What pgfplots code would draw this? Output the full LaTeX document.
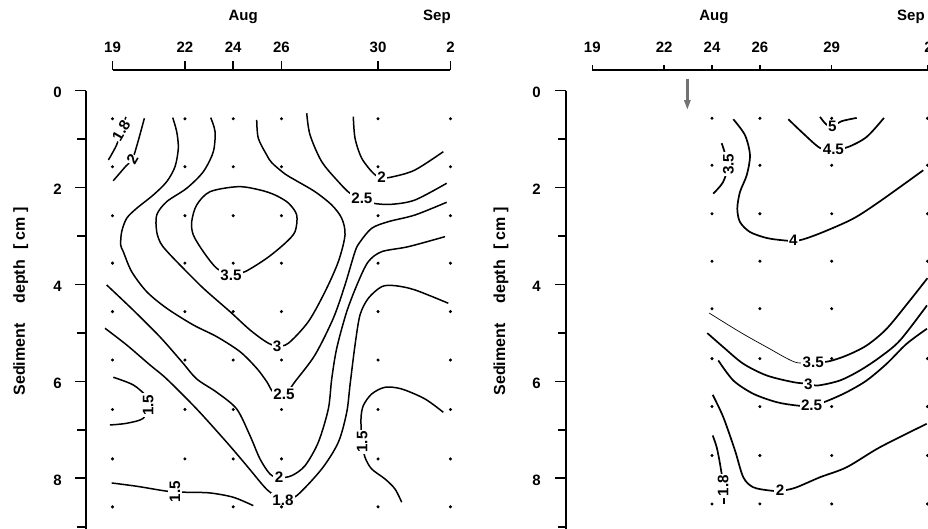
\documentclass[border=0pt]{standalone}
\usepackage{pgfplots}
\pgfplotsset{compat=1.18}
\usepackage{fontspec}
\setmainfont{Liberation Sans}
\usetikzlibrary{arrows.meta}
\newcommand\tl{\fontsize{7.5}{8.5}\selectfont\bfseries}
\newcommand\cl{\fontsize{7.6}{8.5}\selectfont\bfseries}
\begin{document}
\begin{tikzpicture}
\path[use as bounding box] (0,0) rectangle (464pt,264.5pt);
\pgfplotsset{
  panel/.style={scale only axis, hide axis, clip=false, y dir=reverse,
    ymin=-0.427, ymax=9.047, height=229.5pt, anchor=south west},
  cont/.style={black, line width=0.75pt, smooth, mark=none},
  contR/.style={black, line width=0.85pt, smooth, mark=none},
  dots/.style={only marks, mark=*, mark size=0.55pt, black},
}
\tikzset{
  clab/.style={fill=white, inner sep=0.7pt, font=\cl},
  tlab/.style={font=\tl, inner sep=0pt},
}
% ================= LEFT PANEL =================
\begin{axis}[panel, at={(43pt,0pt)}, width=182.23pt, xmin=17.902, xmax=33]
\addplot[dots] table {
x y
19 0.58
22 0.58
24 0.58
26 0.58
30 0.58
33 0.58
19 1.57
22 1.57
24 1.57
26 1.57
30 1.57
33 1.57
19 2.58
22 2.58
24 2.58
26 2.58
30 2.58
33 2.58
19 3.56
22 3.56
24 3.56
26 3.56
30 3.56
33 3.56
19 4.56
22 4.56
24 4.56
26 4.56
30 4.56
33 4.56
19 5.56
22 5.56
24 5.56
26 5.56
30 5.56
33 5.56
19 6.58
22 6.58
24 6.58
26 6.58
30 6.58
33 6.58
19 7.60
22 7.60
24 7.60
26 7.60
30 7.60
33 7.60
19 8.59
24 8.59
26 8.59
30 8.59
33 8.59
};
% contour 1.8 top-left
\addplot[cont] coordinates {(18.83,1.43) (19.17,1.12) (19.36,0.82) (19.47,0.66) (19.56,0.54)};
% contour 2 top-left
\addplot[cont] coordinates {(19.03,1.86) (19.55,1.56) (19.82,1.42) (20.04,1.08) (20.32,0.57)};
% contour 2.5 (left, long)
\addplot[cont] coordinates {(21.494,0.557) (21.660,0.846) (21.726,1.189) (21.589,1.569) (21.246,1.878) (20.690,2.153) (20.003,2.427) (19.588,2.634) (19.381,2.910) (19.340,3.185) (19.447,3.323) (19.795,3.736) (20.417,4.149) (21.245,4.491) (22.348,4.836) (23.317,5.077) (24.282,5.387) (24.974,5.730) (25.389,6.006) (25.662,6.225) (26.104,6.30) (26.560,6.006) (27.388,5.455) (28.147,4.698) (28.631,4.010) (29.046,3.323) (29.253,3.123) (29.738,2.840) (30.425,2.704) (31.531,2.566) (32.844,2.303)};
% contour 3
\addplot[cont] coordinates {(23.068,0.557) (23.247,0.846) (23.176,1.259) (22.762,1.672) (22.074,2.014) (21.245,2.291) (20.831,2.566) (20.831,2.910) (20.989,3.143) (21.245,3.309) (21.797,3.598) (22.762,4.078) (23.868,4.561) (24.697,4.939) (25.389,5.193) (25.815,5.269) (26.283,5.214) (27.112,4.768) (27.804,4.149) (28.355,3.529) (28.632,2.978) (28.495,2.634) (28.081,2.359) (27.388,2.085) (26.560,1.843) (26.146,1.719) (25.607,1.492) (25.388,1.327) (25.040,0.982) (24.974,0.605)};
% contour 3.5 loop
\addplot[cont] coordinates {(23.909,3.804) (23.317,3.666) (22.762,3.323) (22.348,2.978) (22.281,2.704) (22.488,2.359) (23.040,2.085) (24.212,1.981) (25.111,2.050) (25.732,2.153) (26.283,2.318) (26.631,2.566) (26.561,2.910) (26.147,3.150) (25.388,3.459) (24.489,3.736) (23.909,3.804)};
% contour 2 top-right
\addplot[cont] coordinates {(28.976,0.537) (29.047,0.982) (29.324,1.395) (29.805,1.705) (30.153,1.80) (30.634,1.775) (31.532,1.637) (32.705,1.259)};
% contour 2.5 top-right
\addplot[cont] coordinates {(27.046,0.466) (27.183,0.914) (27.667,1.465) (28.355,1.878) (28.840,2.118) (29.325,2.221) (29.805,2.324) (30.567,2.345) (31.532,2.256) (32.845,1.911)};
% contour 2 lower
\addplot[cont] coordinates {(18.760,4.011) (19.849,4.525) (20.968,5.083) (21.879,5.599) (22.488,5.950) (23.317,6.225) (24.145,6.570) (24.697,7.121) (25.111,7.602) (25.525,7.912) (25.898,7.99) (26.424,7.946) (26.975,7.740) (27.526,7.257) (27.940,6.570) (28.081,5.950) (28.289,5.317) (28.703,4.561) (29.183,3.942) (29.598,3.529) (30.153,3.323) (31.255,3.220) (32.775,3.013)};
% contour 1.8 lower
\addplot[cont] coordinates {(18.689,4.904) (19.588,5.249) (20.553,5.662) (21.245,5.950) (22.488,6.570) (23.731,7.257) (24.559,7.740) (25.247,8.153) (25.566,8.303) (26.063,8.45) (26.631,8.359) (27.667,7.808) (28.355,7.257) (28.703,6.638) (28.840,6.074) (29.047,5.249) (29.254,4.629) (29.598,4.285) (30.153,4.045) (30.704,4.025) (31.532,4.113) (32.912,4.388)};
% contour 1.5 left
\addplot[cont] coordinates {(19.033,5.915) (19.862,6.074) (20.417,6.316) (20.483,6.487) (20.276,6.762) (19.588,6.865) (18.896,6.900)};
% contour 1.5 bottom
\addplot[cont] coordinates {(18.967,8.097) (20.003,8.165) (21.105,8.256) (21.589,8.283) (22.074,8.289) (23.039,8.303) (24.004,8.392) (24.833,8.565)};
% contour 1.5 right
\addplot[cont] coordinates {(32.703,6.638) (31.945,6.363) (30.980,6.157) (30.288,6.122) (29.737,6.260) (29.389,6.502) (29.294,6.776) (29.336,7.251) (29.460,7.567) (29.737,7.808) (30.288,8.014) (30.702,8.221) (30.980,8.495)};
% contour labels
\node[clab, rotate=60, inner sep=0.3pt] at (axis cs:19.36,0.82) {1.8};
\node[clab, rotate=60, inner sep=0.3pt] at (axis cs:19.82,1.42) {2};
\node[clab] at (axis cs:23.91,3.80) {3.5};
\node[clab] at (axis cs:25.82,5.27) {3};
\node[clab] at (axis cs:30.15,1.78) {2};
\node[clab] at (axis cs:29.33,2.22) {2.5};
\node[clab] at (axis cs:26.10,6.26) {2.5};
\node[clab] at (axis cs:25.90,7.97) {2};
\node[clab] at (axis cs:26.06,8.45) {1.8};
\node[clab, rotate=90] at (axis cs:20.48,6.49) {1.5};
\node[clab, rotate=90] at (axis cs:21.59,8.28) {1.5};
\node[clab, rotate=90] at (axis cs:29.34,7.25) {1.5};
% axes
\draw[line width=0.6pt] (axis cs:19,-0.427) -- (axis cs:33,-0.427);
\pgfplotsinvokeforeach{19,22,24,26,30,33}{\draw[line width=0.8pt] (axis cs:#1,-0.427) -- ++(0pt,4.5pt);}
\draw[line width=1pt] (axis cs:17.902,0) -- (axis cs:17.902,9.047);
\pgfplotsinvokeforeach{0,2,4,6,8}{\draw[line width=0.8pt] (axis cs:17.902,#1) -- ++(-5.5pt,0pt);}
\pgfplotsinvokeforeach{1,3,5,7,9}{\draw[line width=0.8pt] (axis cs:17.902,#1) -- ++(-4.5pt,0pt);}
\node[tlab, anchor=base] at (axis cs:19,-0.785) {19};
\node[tlab, anchor=base] at (axis cs:22,-0.785) {22};
\node[tlab, anchor=base] at (axis cs:24,-0.785) {24};
\node[tlab, anchor=base] at (axis cs:26,-0.785) {26};
\node[tlab, anchor=base] at (axis cs:30,-0.785) {30};
\node[tlab, anchor=base] at (axis cs:33,-0.785) {2};
\node[tlab, anchor=base] at (axis cs:24.41,-1.44) {Aug};
\node[tlab, anchor=base] at (axis cs:32.44,-1.44) {Sep};
\node[tlab] at (axis cs:16.72,0.04) {0};
\node[tlab] at (axis cs:16.72,2.04) {2};
\node[tlab] at (axis cs:16.72,4.04) {4};
\node[tlab] at (axis cs:16.72,6.04) {6};
\node[tlab] at (axis cs:16.72,8.04) {8};
\node[rotate=90, anchor=base, inner sep=0pt, font=\fontsize{8}{9}\selectfont\bfseries] at (axis cs:15.375,4.35) {Sediment\hspace{10pt}depth\hspace{5pt}[\;cm\;]};
\end{axis}
% ================= RIGHT PANEL =================
\begin{axis}[panel, at={(283pt,0pt)}, width=181pt, xmin=17.901, xmax=33.023]
\addplot[dots] table {
x y
24 0.57
26 0.57
29 0.57
33 0.57
24 1.54
26 1.54
29 1.54
33 1.54
24 2.54
26 2.54
29 2.54
33 2.54
24 3.52
26 3.52
29 3.52
33 3.52
24 4.50
26 4.50
29 4.50
24 5.53
26 5.53
29 5.53
33 5.53
24 6.52
26 6.52
29 6.52
33 6.52
24 7.53
26 7.53
29 7.53
33 7.53
24 8.53
26 8.53
29 8.53
33 8.53
};
% 3.5 short (top-left)
\addplot[contR] coordinates {(24.054,2.124) (24.459,1.890) (24.668,1.539) (24.501,1.229) (24.405,1.085)};
% 4
\addplot[contR] coordinates {(24.890,0.589) (25.378,0.919) (25.587,1.333) (25.449,1.746) (25.169,2.091) (25.057,2.434) (25.169,2.711) (25.587,2.917) (26.285,3.041) (26.978,3.089) (27.396,3.10) (27.813,3.068) (28.649,2.917) (29.902,2.640) (31.017,2.283) (32.826,1.642)};
% 4.5
\addplot[contR] coordinates {(27.187,0.589) (27.813,0.884) (28.511,1.182) (29.067,1.22) (29.693,1.161) (30.462,0.954) (31.184,0.562)};
% 5
\addplot[contR] coordinates {(28.511,0.541) (28.762,0.692) (29.025,0.74) (29.418,0.630) (30.044,0.562)};
% 3.5 lower (thin left part, thick right part)
\addplot[black, line width=0.35pt, smooth, mark=none] coordinates {(23.887,4.591) (25.170,4.983) (26.285,5.293) (27.467,5.603) (28.231,5.61)};
\addplot[contR] coordinates {(28.231,5.61) (28.858,5.589) (29.626,5.465) (30.462,5.258) (31.297,4.913) (32.270,4.328) (33.0,3.87)};
% 3
\addplot[contR] coordinates {(23.804,5.004) (24.472,5.293) (25.307,5.636) (26.285,5.878) (27.396,6.016) (28.022,6.05) (28.440,6.084) (29.346,5.981) (30.181,5.774) (31.017,5.500) (31.852,5.155) (32.981,4.432)};
% 2.5
\addplot[contR] coordinates {(24.263,5.568) (24.890,5.981) (25.725,6.256) (26.702,6.429) (27.538,6.498) (28.164,6.51) (28.858,6.394) (29.626,6.223) (30.462,5.981) (31.297,5.636) (32.133,5.223) (32.981,4.913)};
% 2
\addplot[contR] coordinates {(24.029,6.277) (24.472,6.739) (24.961,7.427) (25.307,7.979) (25.725,8.186) (26.423,8.254) (26.840,8.26) (27.467,8.198) (28.511,7.979) (29.626,7.772) (31.017,7.359) (32.968,6.876)};
% 1.8
\addplot[contR] coordinates {(24.029,7.117) (24.196,7.359) (24.334,7.702) (24.472,8.150) (24.501,8.528)};
% labels
\node[clab, rotate=90] at (axis cs:24.68,1.52) {3.5};
\node[clab] at (axis cs:27.40,3.09) {4};
\node[clab] at (axis cs:29.07,1.21) {4.5};
\node[clab] at (axis cs:29.03,0.73) {5};
\node[clab] at (axis cs:28.23,5.60) {3.5};
\node[clab] at (axis cs:28.02,6.05) {3};
\node[clab] at (axis cs:28.16,6.50) {2.5};
\node[clab] at (axis cs:26.84,8.25) {2};
\node[clab, rotate=90] at (axis cs:24.47,8.15) {1.8};
% arrow
\draw[-{Triangle[length=5pt,width=3pt]}, line width=1.3pt, black!55] (axis cs:22.97,-0.25) -- (axis cs:22.97,0.40);
% axes
\draw[line width=1pt] (axis cs:19,-0.424) -- (axis cs:33.023,-0.424);
\pgfplotsinvokeforeach{19,22,24,26,29,33}{\draw[line width=0.8pt] (axis cs:#1,-0.424) -- ++(0pt,2.8pt);}
\draw[line width=1.1pt] (axis cs:17.901,0) -- (axis cs:17.901,9.06);
\pgfplotsinvokeforeach{0,2,4,6,8}{\draw[line width=0.8pt] (axis cs:17.901,#1) -- ++(-5.5pt,0pt);}
\pgfplotsinvokeforeach{1,3,5,7,9}{\draw[line width=0.8pt] (axis cs:17.901,#1) -- ++(-4.2pt,0pt);}
\node[tlab, anchor=base] at (axis cs:19,-0.781) {19};
\node[tlab, anchor=base] at (axis cs:22,-0.781) {22};
\node[tlab, anchor=base] at (axis cs:24,-0.781) {24};
\node[tlab, anchor=base] at (axis cs:26,-0.781) {26};
\node[tlab, anchor=base] at (axis cs:29,-0.781) {29};
\node[tlab, anchor=base] at (axis cs:33.05,-0.781) {2};
\node[tlab, anchor=base] at (axis cs:24.08,-1.44) {Aug};
\node[tlab, anchor=base] at (axis cs:32.31,-1.44) {Sep};
\node[tlab] at (axis cs:16.67,0.04) {0};
\node[tlab] at (axis cs:16.67,2.04) {2};
\node[tlab] at (axis cs:16.67,4.04) {4};
\node[tlab] at (axis cs:16.67,6.04) {6};
\node[tlab] at (axis cs:16.67,8.04) {8};
\node[rotate=90, anchor=base, inner sep=0pt, font=\fontsize{8}{9}\selectfont\bfseries] at (axis cs:15.353,4.35) {Sediment\hspace{10pt}depth\hspace{5pt}[\;cm\;]};
\end{axis}
\end{tikzpicture}
\end{document}
